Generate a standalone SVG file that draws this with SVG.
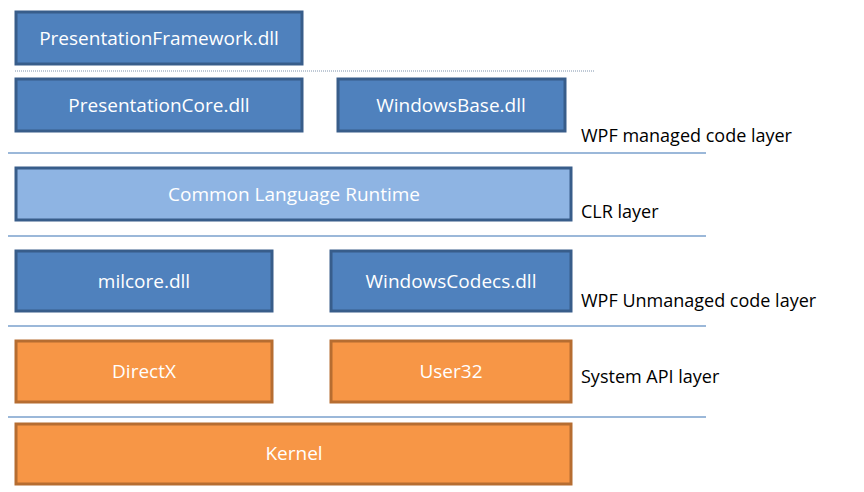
<svg xmlns="http://www.w3.org/2000/svg" width="864" height="492" viewBox="0 0 864 492">
<style>
.b{fill:#4f81bd;stroke:#385d8a;stroke-width:3}
.l{fill:#8eb4e3;stroke:#385d8a;stroke-width:3}
.o{fill:#f79646;stroke:#b66d31;stroke-width:3}
.t{font-family:"Open Sans",sans-serif;font-size:19px;fill:#fff;text-anchor:middle}
.k{font-family:"Open Sans",sans-serif;font-size:18px;fill:#000}
.s{stroke:#7aa0cd;stroke-width:1.5}
</style>
<rect width="864" height="492" fill="#fff"/>
<g id="connectors">
<line x1="15" y1="71" x2="594" y2="71" stroke="#7f93ad" stroke-width="1" stroke-dasharray="1,1"/>
<line class="s" x1="8" y1="153" x2="706" y2="153"/>
<line class="s" x1="8" y1="236" x2="706" y2="236"/>
<line class="s" x1="8" y1="326" x2="706" y2="326"/>
<line class="s" x1="8" y1="417" x2="706" y2="417"/>
</g>
<g id="pf"><rect class="b" x="16" y="12" width="286" height="52"/><text class="t" x="159" y="45">PresentationFramework.dll</text></g>
<g id="pc"><rect class="b" x="16" y="79" width="286" height="52"/><text class="t" x="159" y="112">PresentationCore.dll</text></g>
<g id="wb"><rect class="b" x="338" y="79" width="227" height="52"/><text class="t" x="451" y="112">WindowsBase.dll</text></g>
<g id="clr"><rect class="l" x="16" y="168" width="555" height="52"/><text class="t" x="294" y="201">Common Language Runtime</text></g>
<g id="mil"><rect class="b" x="16" y="251" width="256" height="60"/><text class="t" x="144" y="288">milcore.dll</text></g>
<g id="wc"><rect class="b" x="331" y="251" width="240" height="60"/><text class="t" x="451" y="288">WindowsCodecs.dll</text></g>
<g id="dx"><rect class="o" x="16" y="341" width="256" height="61"/><text class="t" x="144" y="378">DirectX</text></g>
<g id="u32"><rect class="o" x="331" y="341" width="240" height="61"/><text class="t" x="451" y="378">User32</text></g>
<g id="kernel"><rect class="o" x="16" y="424" width="555" height="60"/><text class="t" x="294" y="460">Kernel</text></g>
<g id="labels">
<text class="k" x="581" y="142">WPF managed code layer</text>
<text class="k" x="581" y="218">CLR layer</text>
<text class="k" x="581" y="307">WPF Unmanaged code layer</text>
<text class="k" x="581" y="383">System API layer</text>
</g>
</svg>
